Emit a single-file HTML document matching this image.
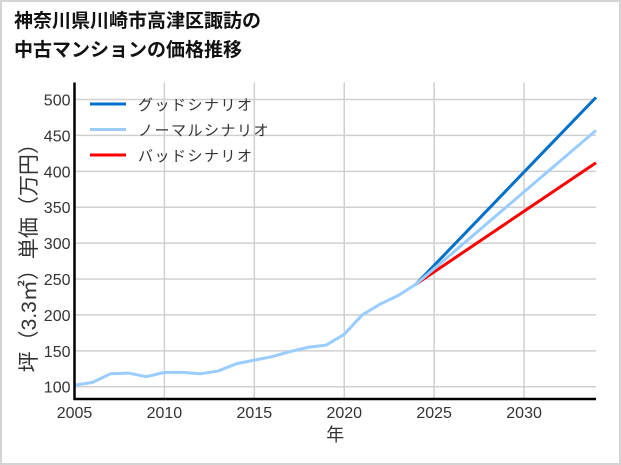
<!DOCTYPE html>
<html><head><meta charset="utf-8"><style>
body{margin:0;background:#fff}
#w{width:617px;height:461px;border:2px solid #d4d4d4;position:relative;font-family:"Liberation Sans","Noto Sans CJK JP",sans-serif;overflow:hidden}
h1{position:absolute;left:12px;top:5px;margin:0;font-size:19px;line-height:29px;font-weight:bold;color:#111}
</style></head><body>
<div id="w">
<h1>神奈川県川崎市高津区諏訪の<br>中古マンションの価格推移</h1>
<svg id="c" width="617" height="461" style="position:absolute;left:0;top:0"></svg>
</div>
<script>
const years=[2005,2006,2007,2008,2009,2010,2011,2012,2013,2014,2015,2016,2017,2018,2019,2020,2021,2022,2023,2024];
const hist=[102,106,118,119,114,120,120,118,122,132,137,142,149,155,158,173,200,215,227,243];
const projYears=[2024,2034];
const good=[243,503];
const normal=[243,457];
const bad=[243,412];
const xTicks=[2005,2010,2015,2020,2025,2030];
const yTicks=[100,150,200,250,300,350,400,450,500];
const legendLabels=["グッドシナリオ","ノーマルシナリオ","バッドシナリオ"];
const colors=["#0070c8","#99ccff","#ff0000"];
const NS="http://www.w3.org/2000/svg",svg=document.getElementById('c');
const L=72.5,R=594,T=80.5,B=397;
const x0=2005,x1=2034,y0=82.9,y1=523.7;
const X=v=>L+(v-x0)/(x1-x0)*(R-L);
const Y=v=>B-(v-y0)/(y1-y0)*(B-T);
function mk(t,a,p){const e=document.createElementNS(NS,t);for(const k in a)e.setAttribute(k,a[k]);(p||svg).appendChild(e);return e;}
yTicks.forEach(v=>{
const l=mk('line',{x1:L,x2:R,y1:Y(v),y2:Y(v),stroke:'#d0d0d0','stroke-width':1.5});


const t=mk('text',{x:L-4,y:Y(v)+6,'text-anchor':'end','font-size':16,fill:'#333'});t.textContent=v;


});
xTicks.forEach(v=>{
const l=mk('line',{x1:X(v),x2:X(v),y1:T,y2:B,stroke:'#d0d0d0','stroke-width':1.5});


const t=mk('text',{x:X(v),y:B+19,'text-anchor':'middle','font-size':16,fill:'#333'});t.textContent=v;


});
function line(xs,ys,c,n){const p=mk('polyline',{points:xs.map((x,i)=>X(x)+','+Y(ys[i])).join(' '),fill:'none',stroke:c,'stroke-width':3,'stroke-linejoin':'round'});

}
line(projYears,good,colors[0],'good-scenario-line');
line(projYears,bad,colors[2],'bad-scenario-line');
line(projYears,normal,colors[1],'normal-scenario-line');
line(years,hist,colors[1],'historical-line');
const ax=mk('path',{d:`M${L} ${T} V${B} H${R}`,fill:'none',stroke:'#000','stroke-width':2.5});


legendLabels.forEach((s,i)=>{const y=102+i*25.5;
const l=mk('line',{x1:88,x2:124,y1:y,y2:y,stroke:colors[i],'stroke-width':3});


const t=mk('text',{x:136,y:y+6,'font-size':15,fill:'#333','letter-spacing':'1.5'});t.textContent=s;

});
const yl=mk('text',{transform:`translate(34 ${(T+B)/2+12}) rotate(-90)`,'text-anchor':'middle','font-size':21,fill:'#333'});
yl.textContent='坪（3.3㎡）単価（万円）';


const xl=mk('text',{x:(L+R)/2,y:439,'text-anchor':'middle','font-size':18,fill:'#333'});
xl.textContent='年';


</script>
</body></html>
